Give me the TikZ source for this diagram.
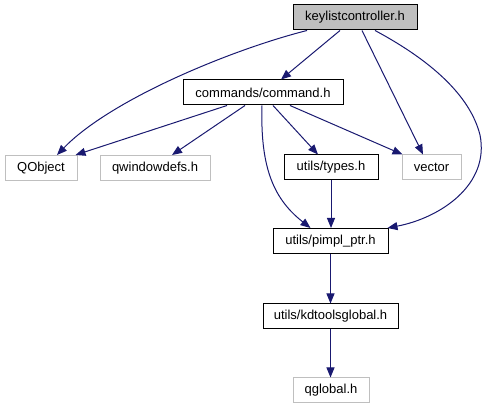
\documentclass[tikz,border=0pt]{standalone}
\usepackage{fontspec}
\setmainfont{Liberation Sans}
\usetikzlibrary{arrows.meta}
\definecolor{edgeblue}{RGB}{25,25,112}
\definecolor{boxgray}{RGB}{191,191,191}
\tikzset{
  filebox/.style={draw=black, fill=white, line width=1pt, minimum height=25pt, inner sep=0pt, font=\fontsize{13}{15}\selectfont},
  extbox/.style={filebox, draw=boxgray},
  rootbox/.style={filebox, fill=boxgray},
  dep/.style={draw=edgeblue, line width=1pt, -{Triangle[length=10pt,width=8pt]}}
}
\begin{document}
\begin{tikzpicture}[x=1pt,y=-1pt]
\useasboundingbox (0,0) rectangle (488,411);
\node[rootbox, minimum width=124pt] (kc) at (355,17.5) {keylistcontroller.h};
\node[filebox, minimum width=160pt] (cmd) at (263,92.5) {commands/command.h};
\node[extbox, minimum width=72pt] (qo) at (41,168) {QObject};
\node[extbox, minimum width=110pt] (qw) at (155,168) {qwindowdefs.h};
\node[filebox, minimum width=94pt] (ty) at (331,167.5) {utils/types.h};
\node[extbox, minimum width=59pt] (ve) at (431.5,167.5) {vector};
\node[filebox, minimum width=115pt] (pp) at (330.5,241) {utils/pimpl\_ptr.h};
\node[filebox, minimum width=135pt] (kd) at (330.5,316.5) {utils/kdtoolsglobal.h};
\node[extbox, minimum width=76pt] (qg) at (331,390.5) {qglobal.h};

\draw[dep] ([xshift=-48pt]kc.south) .. controls (230,50) and (110,100) .. ([xshift=16pt]qo.north);
\draw[dep] ([xshift=-15pt]kc.south) -- ([xshift=18pt]cmd.north);
\draw[dep] ([xshift=7pt]kc.south) -- ([xshift=-8.5pt]ve.north);
\draw[dep] ([xshift=20pt]kc.south) .. controls (430,60) and (470,95) .. (480,135) .. controls (490,185) and (440,218) .. ([xshift=-1pt]pp.north east);

\draw[dep] ([xshift=-36pt]cmd.south) -- ([xshift=-2pt]qo.north east);
\draw[dep] ([xshift=-18pt]cmd.south) -- ([xshift=17pt]qw.north);
\draw[dep] ([xshift=10pt]cmd.south) -- ([xshift=-13pt]ty.north);
\draw[dep] ([xshift=27pt]cmd.south) -- ([xshift=1pt]ve.north west);
\draw[dep] ([xshift=-1pt]cmd.south) .. controls (260,170) and (275,200) .. ([xshift=-20pt]pp.north);
\draw[dep] (ty.south) -- (ty.south |- pp.north);
\draw[dep] (pp.south) -- (kd.north);
\draw[dep] (kd.south) -- (kd.south |- qg.north);
\end{tikzpicture}
\end{document}
